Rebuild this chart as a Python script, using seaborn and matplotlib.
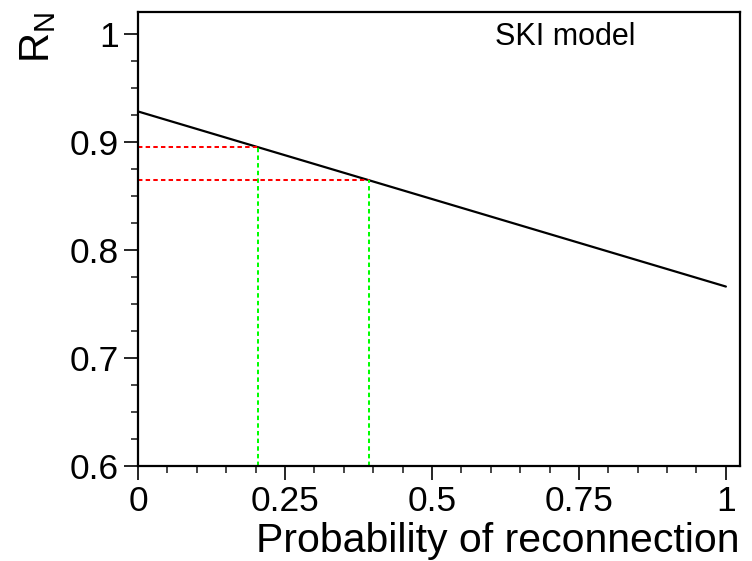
import matplotlib
matplotlib.use("Agg")
import matplotlib.pyplot as plt
import seaborn as sns
import pandas as pd
from matplotlib.ticker import MultipleLocator

sns.set_theme(style="white")
plt.rcParams['font.family'] = ['Liberation Sans', 'DejaVu Sans']
plt.rcParams['mathtext.default'] = 'regular'

# Data
prob = [0.0, 1.0]
rn = [0.928, 0.766]
marked_prob = [0.204, 0.393]
marked_rn = [0.895, 0.865]
x_ticks = [0, 0.25, 0.5, 0.75, 1]
x_tick_labels = ["0", "0.25", "0.5", "0.75", "1"]
y_ticks = [0.6, 0.7, 0.8, 0.9, 1.0]
y_tick_labels = ["0.6", "0.7", "0.8", "0.9", "1"]

df = pd.DataFrame({"prob": prob, "rn": rn})

fig = plt.figure(figsize=(7.52, 5.61), dpi=100)
ax = fig.add_axes([138/752, 1 - 466/561, (740-138)/752, (466-12)/561])

sns.lineplot(data=df, x="prob", y="rn", ax=ax, color="black", linewidth=1.6)

for px, py in zip(marked_prob, marked_rn):
    ax.plot([0, px], [py, py], color="#ff0000", linestyle=(0, (2.2, 1.6)), linewidth=1.45)
    ax.plot([px, px], [0.6, py], color="#00ff00", linestyle=(0, (2.2, 1.6)), linewidth=1.45)

ax.set_xlim(0, 1.024)
ax.set_ylim(0.6, 1.02)
ax.set_xticks(x_ticks)
ax.set_xticklabels(x_tick_labels)
ax.set_yticks(y_ticks)
ax.set_yticklabels(y_tick_labels)
ax.xaxis.set_minor_locator(MultipleLocator(0.05))
ax.yaxis.set_minor_locator(MultipleLocator(0.025))
ax.tick_params(which="major", direction="out", length=10, width=1.2, labelsize=25.5, colors="black", pad=4,
               bottom=True, left=True, top=False, right=False)
ax.tick_params(which="minor", direction="out", length=5, width=1.2, bottom=True, left=True, top=False, right=False)
for s in ax.spines.values():
    s.set_linewidth(1.6)
    s.set_color("black")

ax.set_xlabel("Probability of reconnection", fontsize=29.5, color="black")
ax.xaxis.set_label_coords(1.0, -0.189)
ax.xaxis.label.set_horizontalalignment("right")
ax.xaxis.label.set_verticalalignment("baseline")
ax.set_ylabel("R$_N$", fontsize=30, color="black")
ax.yaxis.set_label_coords(-0.133, 1.0)
ax.yaxis.label.set_horizontalalignment("right")

ax.text(0.726, 0.997, "SKI model", fontsize=22, ha="center", va="center", color="black")

fig.savefig("out.png", dpi=100)
